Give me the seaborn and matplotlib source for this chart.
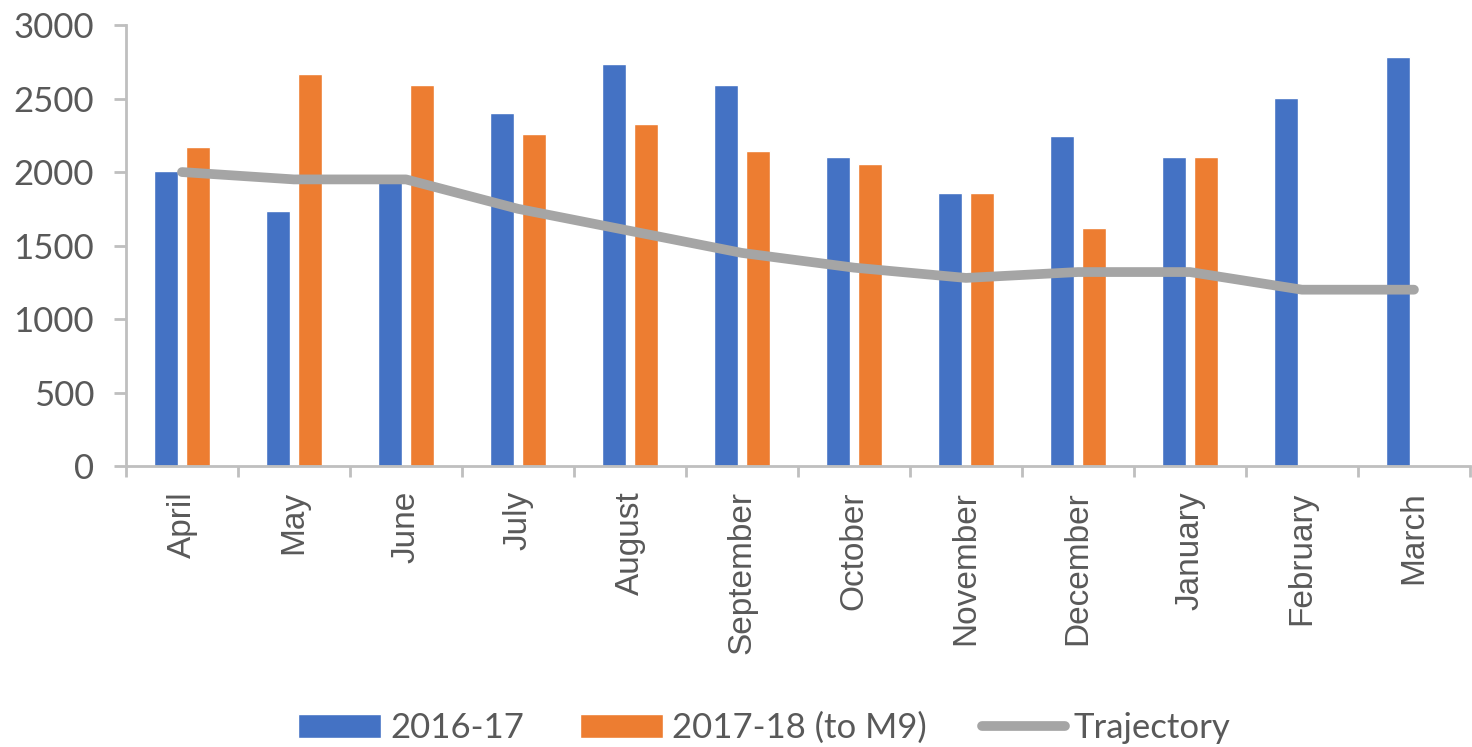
import numpy as np
import pandas as pd
import seaborn as sns
import matplotlib.pyplot as plt
from matplotlib.ticker import MultipleLocator, FixedLocator

months = ['April', 'May', 'June', 'July', 'August', 'September', 'October',
          'November', 'December', 'January', 'February', 'March']
y2016_17 = [2010, 1735, 1930, 2405, 2735, 2595, 2100, 1855, 2245, 2100, 2505, 2780]
y2017_18 = [2170, 2665, 2595, 2260, 2330, 2140, 2055, 1855, 1620, 2100, np.nan, np.nan]
trajectory = [2000, 1950, 1950, 1750, 1600, 1450, 1350, 1280, 1320, 1320, 1200, 1200]
series_names = ['2016-17', '2017-18 (to M9)']

df = pd.DataFrame({
    'month': months * 2,
    'value': y2016_17 + y2017_18,
    'series': [series_names[0]] * 12 + [series_names[1]] * 12,
})

sns.set_theme(style='white')
plt.rcParams['font.family'] = ['Lato', 'DejaVu Sans']
text_col = '#595959'
axis_col = '#BFBFBF'

fig = plt.figure(figsize=(14.72, 7.47), dpi=100)
ax = fig.add_axes([0.0856, 0.376, 0.913, 0.5905])

sns.barplot(data=df, x='month', y='value', hue='series', order=months,
            hue_order=series_names, palette=['#4472C4', '#ED7D31'],
            width=0.572, gap=0.265, ax=ax, saturation=1, legend=True)
sns.lineplot(x=months, y=trajectory, color='#A5A5A5', linewidth=7,
             solid_capstyle='round', solid_joinstyle='round', ax=ax,
             label='Trajectory', sort=False)

ax.set_xlim(-0.5, 11.5)
ax.set_ylim(0, 3000)
ax.yaxis.set_major_locator(MultipleLocator(500))
ax.set_xlabel('')
ax.set_ylabel('')

for s in ['top', 'right']:
    ax.spines[s].set_visible(False)
for s in ['left', 'bottom']:
    ax.spines[s].set_color(axis_col)
    ax.spines[s].set_linewidth(2)

ax.tick_params(axis='y', length=9, width=2, color=axis_col, labelcolor=text_col,
               labelsize=25, pad=14, left=True)
ax.set_xticks(range(len(months)))
ax.set_xticklabels(months, rotation=90, fontsize=24, color=text_col,
                   family=['Liberation Sans', 'DejaVu Sans'])
ax.tick_params(axis='x', which='major', length=0, pad=18)
ax.xaxis.set_minor_locator(FixedLocator(np.arange(-0.5, 12, 1)))
ax.tick_params(axis='x', which='minor', length=8, width=2, color=axis_col, bottom=True)

ax.legend(loc='center', bbox_to_anchor=(0.475, -0.594), ncol=3, frameon=False,
          fontsize=25, labelcolor=text_col, handlelength=2.4, handleheight=0.7,
          columnspacing=1.6, handletextpad=0.25)

fig.savefig('out.png', dpi=100)
